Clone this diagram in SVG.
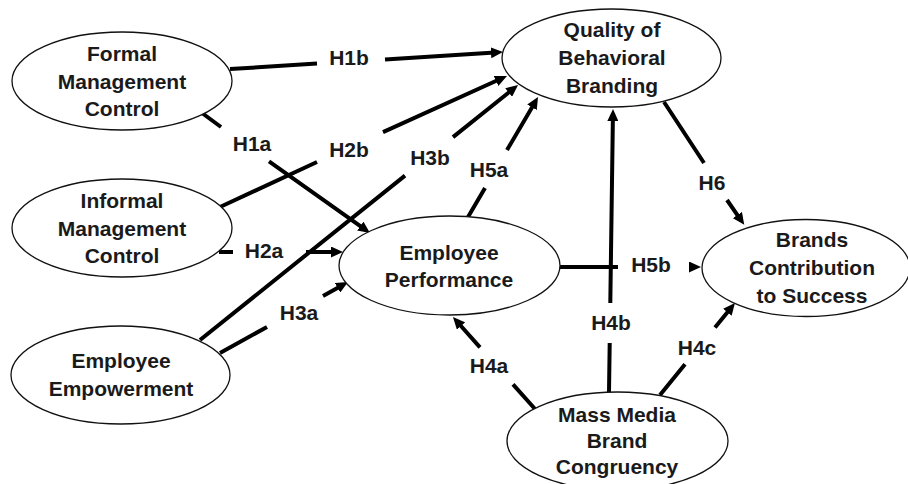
<svg xmlns="http://www.w3.org/2000/svg" width="908" height="484" viewBox="0 0 908 484">
  <style>
    .node ellipse { fill: #ffffff; stroke: #111111; stroke-width: 1.3; }
    .node text, .label { font-family: "Liberation Sans", Arial, sans-serif; font-weight: bold; font-size: 21px; fill: #1a1a1a; text-anchor: middle; }
    .edge { fill: none; stroke: #000000; stroke-width: 4; marker-end: url(#arrow); }
  </style>
  <defs>
    <marker id="arrow" markerUnits="userSpaceOnUse" markerWidth="12" markerHeight="11" refX="4" refY="5.5" orient="auto">
      <path d="M0,0 L12,5.5 L0,11 z" fill="#000000"/>
    </marker>
  </defs>
  <rect width="908" height="484" fill="#ffffff"/>

  <!-- connectors: each path has a gap where its hypothesis label sits -->
  <g id="connectors">
    <path id="e-h1b" class="edge" d="M230,69 L317,63.6 M385,59.4 L495,52.5"/>
    <path id="e-h1a" class="edge" d="M202,113 L221,127 M269,161.3 L363.5,228.4"/>
    <path id="e-h2b" class="edge" d="M220,207 L317,162 M383,132.1 L499.7,79.3"/>
    <path id="e-h3b" class="edge" d="M200,340 L405,175.6 M453,137.1 L511.8,90"/>
    <path id="e-h5a" class="edge" d="M468,217 L485,187.9 M507,150.1 L534,103.9"/>
    <path id="e-h2a" class="edge" d="M219,252 L233,252 M306,252 L335,252"/>
    <path id="e-h3a" class="edge" d="M220,353 L267,326.9 M323,295.9 L341,285.9"/>
    <path id="e-h5b" class="edge" d="M560,267 L618,267 M689,267 L693,267"/>
    <path id="e-h4b" class="edge" d="M609,392 L609.7,343 M610.3,303 L612.9,117"/>
    <path id="e-h4a" class="edge" d="M535,409 L513,384.3 M480,347.3 L458.3,323"/>
    <path id="e-h4c" class="edge" d="M660,395 L685,364.3 M715,327.5 L729.9,309.2"/>
    <path id="e-h6" class="edge" d="M664,102 L704,163 M727,200 L739.7,218.3"/>
  </g>

  <!-- hypothesis labels -->
  <g id="labels">
    <text class="label" x="349" y="65">H1b</text>
    <text class="label" x="252" y="151">H1a</text>
    <text class="label" x="349" y="157">H2b</text>
    <text class="label" x="430" y="165">H3b</text>
    <text class="label" x="489" y="177">H5a</text>
    <text class="label" x="264" y="258">H2a</text>
    <text class="label" x="299" y="320">H3a</text>
    <text class="label" x="651" y="272">H5b</text>
    <text class="label" x="611" y="330">H4b</text>
    <text class="label" x="712" y="190">H6</text>
    <text class="label" x="489" y="373">H4a</text>
    <text class="label" x="697" y="355">H4c</text>
  </g>

  <g id="formal-management-control" class="node">
    <ellipse cx="122" cy="81" rx="110" ry="49"/>
    <text x="122" y="61">Formal</text>
    <text x="122" y="88.5">Management</text>
    <text x="122" y="116">Control</text>
  </g>

  <g id="informal-management-control" class="node">
    <ellipse cx="122" cy="228" rx="110" ry="49"/>
    <text x="122" y="208">Informal</text>
    <text x="122" y="235.5">Management</text>
    <text x="122" y="263">Control</text>
  </g>

  <g id="employee-empowerment" class="node">
    <ellipse cx="120.5" cy="375" rx="109.5" ry="49"/>
    <text x="121" y="368">Employee</text>
    <text x="121" y="396">Empowerment</text>
  </g>

  <g id="quality-behavioral-branding" class="node">
    <ellipse cx="611.5" cy="58" rx="109.5" ry="49"/>
    <text x="612" y="37">Quality of</text>
    <text x="612" y="65">Behavioral</text>
    <text x="612" y="93">Branding</text>
  </g>

  <g id="employee-performance" class="node">
    <ellipse cx="449.5" cy="265.5" rx="110.5" ry="49.5"/>
    <text x="449" y="260">Employee</text>
    <text x="449" y="287">Performance</text>
  </g>

  <g id="brands-contribution" class="node">
    <ellipse cx="806" cy="268" rx="104" ry="48.5"/>
    <text x="812" y="247">Brands</text>
    <text x="812" y="275">Contribution</text>
    <text x="812" y="303">to Success</text>
  </g>

  <g id="mass-media-brand-congruency" class="node">
    <ellipse cx="617.5" cy="441" rx="110.5" ry="49"/>
    <text x="617" y="422">Mass Media</text>
    <text x="617" y="448">Brand</text>
    <text x="617" y="474">Congruency</text>
  </g>
</svg>
